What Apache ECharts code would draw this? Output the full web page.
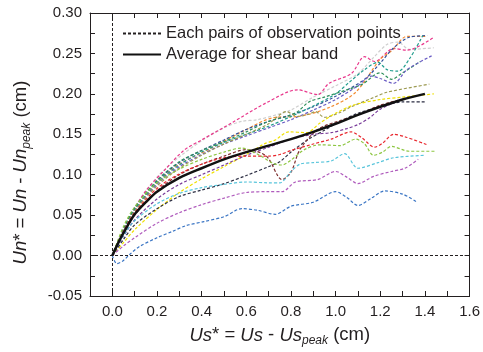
<!DOCTYPE html>
<html><head><meta charset="utf-8">
<script src="https://cdn.jsdelivr.net/npm/echarts@6/dist/echarts.min.js"></script>
<style>html,body{margin:0;padding:0;background:#fff}#c{width:483px;height:352px}</style>
</head><body><div id="c"></div>
<script>
// ---- data (x = Us*, y = Un*) ----
const avgBand = [[0,0],[0.02,0.012],[0.05,0.028],[0.1,0.051],[0.15,0.066],[0.2,0.079],[0.3,0.096],[0.4,0.108],[0.5,0.119],[0.6,0.128],[0.7,0.136],[0.8,0.144],[0.9,0.153],[1.0,0.163],[1.1,0.174],[1.2,0.184],[1.3,0.193],[1.4,0.200]];
const pairPink = [[0,0],[0.03,0.02],[0.06,0.037],[0.1,0.058],[0.15,0.08],[0.235,0.106],[0.32,0.13],[0.4,0.143],[0.54,0.165],[0.69,0.189],[0.83,0.205],[0.92,0.199],[0.97,0.213],[1.07,0.225],[1.13,0.246],[1.175,0.240],[1.26,0.256],[1.32,0.254],[1.44,0.270]];
const pairGray = [[0,0],[0.05,0.032],[0.1,0.06],[0.2,0.097],[0.3,0.122],[0.4,0.142],[0.5,0.158],[0.58,0.166],[0.65,0.168],[0.745,0.175],[0.8,0.18],[0.9,0.196],[1.0,0.21],[1.1,0.225],[1.17,0.245],[1.23,0.261],[1.28,0.264],[1.33,0.255],[1.44,0.257]];
const pairOrange = [[0,0],[0.05,0.03],[0.1,0.055],[0.2,0.09],[0.3,0.113],[0.43,0.131],[0.58,0.153],[0.73,0.171],[0.83,0.172],[0.97,0.183],[1.09,0.202],[1.2,0.243],[1.25,0.253],[1.32,0.271],[1.41,0.271]];
const pairNavy = [[0,0],[0.05,0.032],[0.1,0.058],[0.2,0.092],[0.3,0.115],[0.4,0.13],[0.5,0.143],[0.6,0.156],[0.7,0.166],[0.8,0.174],[0.9,0.184],[1.0,0.197],[1.13,0.218],[1.2,0.238],[1.26,0.257],[1.33,0.27],[1.41,0.272]];
const pairTeal = [[0,0],[0.05,0.031],[0.1,0.057],[0.2,0.09],[0.3,0.112],[0.4,0.128],[0.5,0.14],[0.6,0.15],[0.7,0.16],[0.8,0.172],[0.9,0.185],[1.0,0.2],[1.06,0.214],[1.13,0.23],[1.19,0.239],[1.23,0.23],[1.28,0.228],[1.33,0.243],[1.39,0.272]];
const pairDarkGreen = [[0,0],[0.05,0.033],[0.1,0.059],[0.2,0.093],[0.3,0.116],[0.4,0.13],[0.5,0.141],[0.6,0.153],[0.7,0.166],[0.78,0.172],[0.83,0.178],[0.88,0.19],[0.95,0.196],[1.05,0.205],[1.12,0.212],[1.2,0.226],[1.25,0.218],[1.3,0.226],[1.38,0.24]];
const pairSlate = [[0,0],[0.05,0.03],[0.1,0.055],[0.2,0.088],[0.3,0.11],[0.4,0.125],[0.5,0.138],[0.6,0.148],[0.7,0.158],[0.8,0.168],[0.9,0.18],[1.0,0.193],[1.1,0.21],[1.16,0.222],[1.2,0.219],[1.26,0.213],[1.32,0.23],[1.43,0.247]];
const pairOlive = [[0,0],[0.05,0.03],[0.1,0.055],[0.2,0.086],[0.3,0.108],[0.4,0.124],[0.5,0.138],[0.6,0.15],[0.7,0.163],[0.78,0.178],[0.83,0.172],[0.88,0.175],[0.91,0.178],[0.95,0.171],[1.02,0.177],[1.07,0.184],[1.175,0.196],[1.23,0.202],[1.42,0.212]];
const pairYellow = [[0,0],[0.05,0.016],[0.1,0.032],[0.2,0.057],[0.3,0.078],[0.4,0.095],[0.5,0.11],[0.6,0.125],[0.68,0.138],[0.73,0.143],[0.79,0.153],[0.87,0.152],[0.93,0.164],[1.0,0.176],[1.08,0.186],[1.2,0.193],[1.3,0.196],[1.44,0.2]];
const pairBlack = [[0,0],[0.05,0.02],[0.1,0.038],[0.2,0.058],[0.3,0.073],[0.4,0.081],[0.49,0.088],[0.6,0.099],[0.7,0.11],[0.75,0.116],[0.8,0.128],[0.88,0.144],[0.95,0.155],[1.0,0.163],[1.1,0.176],[1.2,0.184],[1.3,0.19],[1.4,0.19]];
const pairViolet = [[0,0],[0.05,0.024],[0.1,0.044],[0.2,0.07],[0.3,0.088],[0.4,0.1],[0.5,0.112],[0.6,0.124],[0.7,0.134],[0.8,0.144],[0.9,0.15],[0.98,0.152],[1.05,0.157],[1.1,0.162],[1.15,0.17],[1.2,0.181],[1.27,0.19]];
const pairBrown = [[0,0],[0.05,0.028],[0.1,0.05],[0.2,0.08],[0.3,0.1],[0.4,0.113],[0.5,0.123],[0.6,0.131],[0.69,0.123],[0.76,0.094],[0.8,0.103],[0.84,0.131],[0.92,0.156],[1.02,0.167],[1.1,0.174],[1.2,0.186],[1.28,0.192]];
const pairRed = [[0,0],[0.05,0.03],[0.1,0.053],[0.2,0.083],[0.3,0.101],[0.4,0.113],[0.5,0.121],[0.6,0.123],[0.7,0.123],[0.75,0.125],[0.8,0.13],[0.9,0.138],[0.98,0.144],[1.07,0.153],[1.12,0.145],[1.175,0.134],[1.21,0.139],[1.26,0.150],[1.31,0.147],[1.41,0.137]];
const pairGreen = [[0,0],[0.05,0.036],[0.1,0.06],[0.2,0.09],[0.3,0.107],[0.4,0.119],[0.5,0.128],[0.58,0.133],[0.66,0.124],[0.72,0.114],[0.76,0.112],[0.8,0.118],[0.86,0.131],[0.93,0.137],[1.02,0.136],[1.09,0.144],[1.13,0.138],[1.17,0.124],[1.21,0.128],[1.25,0.135],[1.33,0.129],[1.45,0.129]];
const pairCyan = [[0,0],[0.05,0.025],[0.1,0.043],[0.2,0.064],[0.3,0.077],[0.4,0.084],[0.5,0.088],[0.6,0.091],[0.7,0.09],[0.75,0.09],[0.8,0.104],[0.84,0.113],[0.9,0.115],[0.98,0.117],[1.04,0.126],[1.1,0.108],[1.19,0.115],[1.26,0.121],[1.4,0.124]];
const pairMagenta = [[0,0],[0.05,0.012],[0.1,0.022],[0.2,0.04],[0.3,0.053],[0.4,0.063],[0.5,0.071],[0.6,0.078],[0.7,0.079],[0.76,0.079],[0.82,0.091],[0.92,0.094],[1.0,0.104],[1.05,0.097],[1.1,0.089],[1.17,0.098],[1.25,0.104],[1.31,0.108],[1.37,0.119]];
const pairBlue = [[0,0],[0.02,-0.01],[0.05,-0.006],[0.08,0.002],[0.12,0.011],[0.2,0.022],[0.27,0.03],[0.33,0.037],[0.41,0.042],[0.5,0.048],[0.58,0.058],[0.65,0.056],[0.73,0.051],[0.8,0.061],[0.9,0.066],[1.0,0.079],[1.05,0.072],[1.1,0.062],[1.16,0.071],[1.22,0.080],[1.3,0.076],[1.365,0.066]];

const legendNames = ['Each pairs of observation points', 'Average for shear band'];
const xMin = -0.1, xMax = 1.6, yMin = -0.05, yMax = 0.30;

// ---- styling ----
const INK = '#231f20';
const FONT = '"Liberation Sans", Arial, sans-serif';
const pairs = [
  [pairGray, '#cfcfcf'], [pairPink, '#e8378b'], [pairOrange, '#f28a30'], [pairNavy, '#33509b'],
  [pairTeal, '#1f9c8c'], [pairDarkGreen, '#2e8f5a'], [pairSlate, '#6a5cc4'], [pairOlive, '#9c9a52'],
  [pairYellow, '#efe000'], [pairBlack, '#2b2d42'], [pairViolet, '#7a3d9a'], [pairBrown, '#7d2c2c'],
  [pairRed, '#e8262d'], [pairGreen, '#8dc641'], [pairCyan, '#58c5db'], [pairMagenta, '#b05cbd'],
  [pairBlue, '#3a75c4']
];

const series = pairs.map(([d, c], i) => ({
  name: 'pair' + i, type: 'line', data: d, smooth: 0.3,
  symbol: 'none', color: c, lineStyle: { color: c, width: 1.2, type: [3, 2] }, z: 2
}));
series.push({
  name: legendNames[0], type: 'line', data: [], symbol: 'none', showSymbol: false, color: INK,
  lineStyle: { color: INK, width: 1, type: [3, 2] }
});
series.push({
  name: legendNames[1], type: 'line', data: avgBand, smooth: 0.3,
  symbol: 'none', showSymbol: false, color: '#111', lineStyle: { color: '#111', width: 2.5 }, z: 5,
  markLine: {
    silent: true, symbol: ['none', 'none'], label: { show: false },
    lineStyle: { type: [3, 2], color: INK, width: 1 },
    data: [{ xAxis: 0 }, { yAxis: 0 }]
  }
});

const nameRich = {
  i: { fontStyle: 'italic', fontSize: 18.5, fontFamily: FONT, color: INK, lineHeight: 22 },
  n: { fontSize: 18.5, fontFamily: FONT, color: INK, lineHeight: 22 },
  s: { fontStyle: 'italic', fontSize: 12, fontFamily: FONT, color: INK, lineHeight: 15, padding: [11, 0, 0, 0] }
};

const xFmt = v => { const k = Math.round(v * 10); return (k >= 0 && k % 2 === 0) ? (k / 10).toFixed(1) : ''; };
const yFmt = v => { const k = Math.round(v * 1000); return k % 50 === 0 ? v.toFixed(2) : ''; };

const axisCommon = {
  axisLine: { show: true, onZero: false, lineStyle: { color: INK, width: 1 } },
  axisTick: { show: true, inside: true, length: 5, lineStyle: { color: INK } },
  splitLine: { show: false }
};

const option = {
  animation: false,
  backgroundColor: '#fff',
  grid: { left: 90, right: 10, top: 13, bottom: 56 },
  legend: {
    data: legendNames, orient: 'vertical', left: 117, top: 20,
    itemWidth: 38, itemHeight: 12, itemGap: 4,
    itemStyle: { color: 'transparent', borderColor: 'transparent', borderWidth: 0, opacity: 0 },
    textStyle: { fontSize: 16.5, color: INK, fontFamily: FONT }
  },
  xAxis: [
    Object.assign({
      type: 'value', min: xMin, max: xMax, interval: 0.1, position: 'bottom',
      axisLabel: { formatter: xFmt, fontSize: 15, color: INK, fontFamily: FONT, margin: 8 },
      name: '{i|Us}{n|* = }{i|Us}{n| - }{i|Us}{s|peak}{n| (cm)}',
      nameLocation: 'middle', nameGap: 22,
      nameTextStyle: { rich: nameRich }
    }, axisCommon),
    Object.assign({
      type: 'value', min: xMin, max: xMax, interval: 0.1, position: 'top',
      axisLabel: { show: false }
    }, axisCommon)
  ],
  yAxis: [
    Object.assign({
      type: 'value', min: yMin, max: yMax, interval: 0.025, position: 'left',
      axisLabel: { formatter: yFmt, fontSize: 15, color: INK, fontFamily: FONT, margin: 8 },
      name: '{i|Un}{n|* = }{i|Un}{n| - }{i|Un}{s|peak}{n| (cm)}',
      nameLocation: 'middle', nameGap: 58, nameRotate: 90,
      nameTextStyle: { rich: nameRich, padding: [0, 36, 0, 0] }
    }, axisCommon),
    Object.assign({
      type: 'value', min: yMin, max: yMax, interval: 0.025, position: 'right',
      axisLabel: { show: false }
    }, axisCommon)
  ],
  series: series
};

const chart = echarts.init(document.getElementById('c'), null, { renderer: 'canvas' });
chart.setOption(option);
</script>
</body></html>
